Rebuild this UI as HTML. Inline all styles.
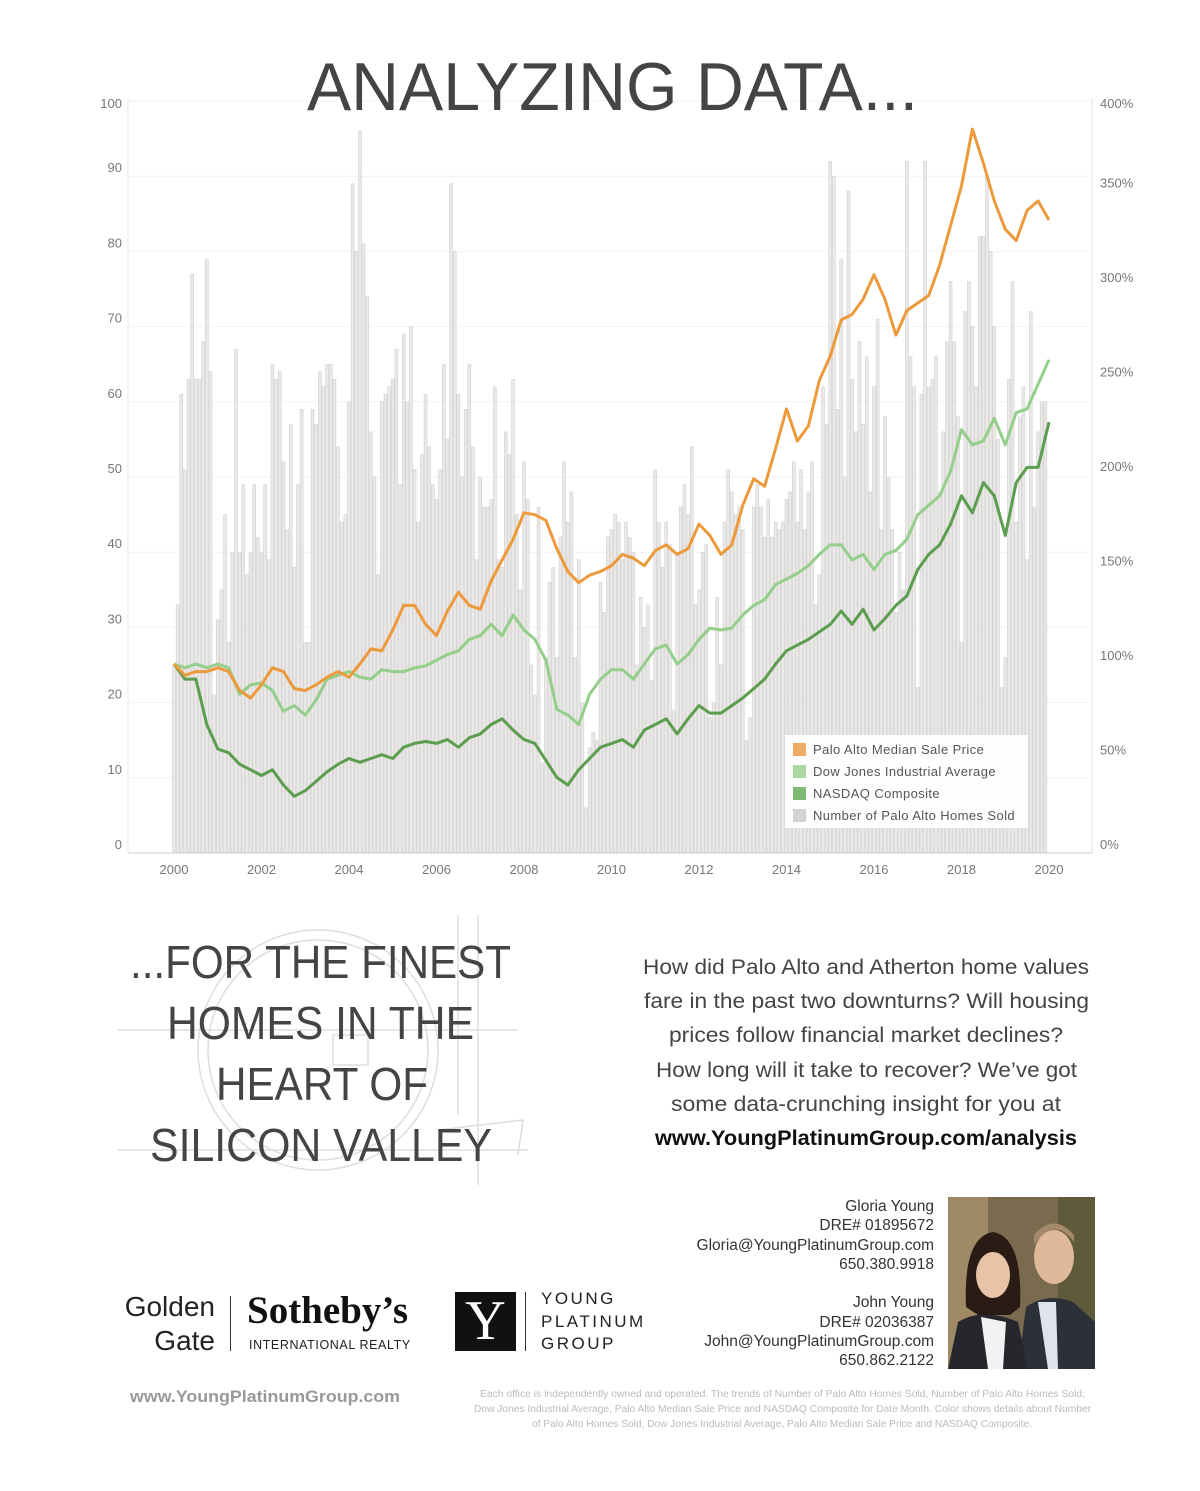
<!DOCTYPE html>
<html><head><meta charset="utf-8">
<style>
body{margin:0;background:#fff;font-family:"Liberation Sans",sans-serif;}
#page{position:relative;width:1200px;height:1491px;overflow:hidden;background:#fff;}
.abs{position:absolute;}
.tick{font-size:13px;fill:#777;}
</style></head>
<body>
<div id="page">
<svg id="chart" class="abs" style="left:0;top:0" width="1200" height="900"></svg>

<svg class="abs" style="left:0;top:0" width="1200" height="1491">
 <text x="307" y="110" font-size="68" fill="#444" textLength="611" lengthAdjust="spacingAndGlyphs">ANALYZING DATA...</text>
 <g stroke="#ddd" fill="none" stroke-width="1.5">
  <circle cx="318" cy="1050" r="120"/><circle cx="318" cy="1050" r="110"/>
  <line x1="118" y1="1030" x2="518" y2="1030"/><line x1="118" y1="1150" x2="528" y2="1150"/>
  <line x1="478" y1="915" x2="478" y2="1185"/><line x1="458" y1="915" x2="458" y2="1115"/>
  <rect x="333" y="1035" width="35" height="30"/><path d="M438 1130 L523 1120 L518 1155"/>
 </g>
 <g font-size="46" fill="#444">
  <text x="130" y="978" textLength="381" lengthAdjust="spacingAndGlyphs">...FOR THE FINEST</text>
  <text x="167" y="1039" textLength="307" lengthAdjust="spacingAndGlyphs">HOMES IN THE</text>
  <text x="216" y="1100" textLength="212" lengthAdjust="spacingAndGlyphs">HEART OF</text>
  <text x="150" y="1161" textLength="342" lengthAdjust="spacingAndGlyphs">SILICON VALLEY</text>
 </g>
 <g font-size="21" fill="#444">
  <text x="643" y="974" textLength="446" lengthAdjust="spacingAndGlyphs">How did Palo Alto and Atherton home values</text>
  <text x="644" y="1008" textLength="445" lengthAdjust="spacingAndGlyphs">fare in the past two downturns? Will housing</text>
  <text x="669" y="1042" textLength="394" lengthAdjust="spacingAndGlyphs">prices follow financial market declines?</text>
  <text x="656" y="1077" textLength="421" lengthAdjust="spacingAndGlyphs">How long will it take to recover? We’ve got</text>
  <text x="671" y="1111" textLength="390" lengthAdjust="spacingAndGlyphs">some data-crunching insight for you at</text>
  <text x="655" y="1145" font-weight="bold" fill="#111" textLength="422" lengthAdjust="spacingAndGlyphs">www.YoungPlatinumGroup.com/analysis</text>
 </g>
 <g font-size="10" fill="#bbb">
  <text x="480" y="1397" textLength="605" lengthAdjust="spacingAndGlyphs">Each office is independently owned and operated. The trends of Number of Palo Alto Homes Sold, Number of Palo Alto Homes Sold,</text>
  <text x="474" y="1412" textLength="617" lengthAdjust="spacingAndGlyphs">Dow Jones Industrial Average, Palo Alto Median Sale Price and NASDAQ Composite for Date Month. Color shows details about Number</text>
  <text x="532" y="1427" textLength="500" lengthAdjust="spacingAndGlyphs">of Palo Alto Homes Sold, Dow Jones Industrial Average, Palo Alto Median Sale Price and NASDAQ Composite.</text>
 </g>
 <text x="130" y="1402" font-size="17" font-weight="bold" fill="#999" textLength="270" lengthAdjust="spacingAndGlyphs">www.YoungPlatinumGroup.com</text>
</svg>

<div class="abs" style="left:640px;top:1197px;width:294px;text-align:right;font-size:15.5px;line-height:19.3px;color:#333;">Gloria Young<br>DRE# 01895672<br>Gloria@YoungPlatinumGroup.com<br>650.380.9918<br><br>John Young<br>DRE# 02036387<br>John@YoungPlatinumGroup.com<br>650.862.2122</div>

<svg class="abs" style="left:948px;top:1197px" width="147" height="172">
 <rect width="147" height="172" fill="#7a6a4e"/>
 <rect x="0" y="0" width="40" height="172" fill="#a08a66"/>
 <rect x="110" y="0" width="37" height="172" fill="#5f5a3a"/>
 <path d="M70 172 L78 110 Q100 95 125 105 L147 125 L147 172Z" fill="#2c3038"/>
 <path d="M90 105 L100 172 L110 172 L108 105Z" fill="#dfe3ea"/>
 <ellipse cx="106" cy="60" rx="20" ry="27" fill="#e0b89c"/>
 <path d="M86 48 Q106 18 126 45 L126 38 Q106 15 86 38Z" fill="#a58a6a"/>
 <path d="M0 172 L10 125 Q35 110 70 125 L80 172Z" fill="#25272d"/>
 <path d="M33 120 L40 172 L55 172 L58 125Z" fill="#f2f2f2"/>
 <path d="M18 110 Q15 40 45 35 Q75 40 72 110 L62 118 L30 118Z" fill="#2a1c14"/>
 <ellipse cx="45" cy="78" rx="17" ry="23" fill="#e8c3a8"/>
</svg>

<div class="abs" style="left:120px;top:1290px;width:95px;text-align:right;font-size:28px;line-height:34px;color:#222;">Golden<br>Gate</div>
<div class="abs" style="left:230px;top:1296px;width:1px;height:55px;background:#333"></div>
<div class="abs" style="left:247px;top:1288px;font-family:'Liberation Serif',serif;font-size:39px;font-weight:bold;color:#111;">Sotheby’s</div>
<div class="abs" style="left:249px;top:1338px;font-size:12.5px;letter-spacing:0.6px;color:#222;">INTERNATIONAL REALTY</div>

<div class="abs" style="left:455px;top:1292px;width:61px;height:59px;background:#111;color:#fff;font-family:'Liberation Serif',serif;font-size:56px;line-height:59px;text-align:center;">Y</div>
<div class="abs" style="left:525px;top:1292px;width:1px;height:59px;background:#333"></div>
<div class="abs" style="left:541px;top:1288px;font-size:17px;line-height:22.5px;letter-spacing:2.5px;color:#222;">YOUNG<br>PLATINUM<br>GROUP</div>
</div>

<script>
const homesSold = [
25,33,61,51,63,77,63,63,68,79,64,21,
31,35,45,28,40,67,40,49,37,40,49,42,
40,49,39,65,63,64,52,43,57,38,49,59,
28,28,59,57,64,62,65,65,63,54,44,45,
60,89,80,96,81,74,56,50,37,60,61,62,
63,67,49,69,60,70,51,44,53,61,54,49,
47,51,65,55,89,80,61,50,59,65,54,39,
50,46,46,47,62,39,38,56,53,63,45,35,
52,47,25,21,46,12,26,36,38,26,42,52,
44,48,26,39,20,6,14,16,15,36,32,42,
43,45,44,39,44,42,40,25,34,30,33,23,
51,44,38,44,41,19,40,46,49,45,54,33,
35,40,41,18,20,34,25,44,51,48,45,46,
43,15,18,46,49,46,42,47,42,44,43,44,
47,48,52,44,51,43,48,52,33,37,62,57,
92,90,59,79,50,88,63,56,68,57,66,48,
62,71,43,58,50,43,32,40,35,92,66,62,
22,61,92,62,63,66,48,56,68,76,68,58,
28,72,76,70,62,82,82,90,80,70,55,22,
26,63,76,44,58,62,39,72,46,56,60,60];
const paloAlto = [100,94,96,96,98,96,86,82,89,98,96,87,86,89,93,96,93,100,108,107,118,131,131,121,115,128,138,131,129,144,155,166,180,179,176,161,149,143,147,149,152,158,156,152,160,163,158,161,174,168,158,163,184,198,194,214,235,218,226,250,263,282,285,293,306,293,274,287,291,295,311,332,353,383,365,345,330,324,340,345,335];
const dowJones = [100,98,100,98,100,98,84,89,90,86,75,78,73,81,92,94,96,93,92,97,96,96,98,99,102,105,107,113,115,121,115,126,118,113,102,76,73,68,84,92,97,97,92,100,108,110,100,105,113,119,118,119,126,131,134,142,145,148,152,158,163,163,155,158,150,158,160,166,179,184,189,202,224,216,218,230,216,233,235,248,261];
const nasdaq = [100,92,92,68,55,53,47,44,41,44,36,30,33,38,43,47,50,48,50,52,50,56,58,59,58,60,56,61,63,68,71,65,60,58,49,40,36,44,50,56,58,60,56,65,68,71,63,71,78,74,74,78,82,87,92,100,107,110,113,117,121,128,121,129,118,124,131,136,150,158,163,174,189,180,196,189,168,196,204,204,228];
const leftTicks = [0,10,20,30,40,50,60,70,80,90,100];
const rightTicks = [0,50,100,150,200,250,300,350,400];
const yearTicks = [2000,2002,2004,2006,2008,2010,2012,2014,2016,2018,2020];
const legendLabels = ["Palo Alto Median Sale Price","Dow Jones Industrial Average","NASDAQ Composite","Number of Palo Alto Homes Sold"];
const legendColors = ["#f0ab64","#a9d9a0","#7dbb72","#d5d2d2"];

const NS="http://www.w3.org/2000/svg";
const svg=document.getElementById('chart');
const X0=174,X1=1049,Y0=853,PL=7.52,PR=1.89;
const xYear=y=>X0+(y-2000)*(X1-X0)/20;
const yL=v=>Y0-v*PL;
const yR=p=>Y0-p*PR;
function mk(t,a){const e=document.createElementNS(NS,t);for(const k in a)e.setAttribute(k,a[k]);svg.appendChild(e);return e;}

mk('line',{x1:128,y1:98,x2:128,y2:Y0,stroke:'#e6e6e6'});
mk('line',{x1:1092,y1:98,x2:1092,y2:Y0,stroke:'#e6e6e6'});
leftTicks.forEach(v=>{
 const g=mk('line',{x1:128,x2:1092,y1:yL(v),y2:yL(v),stroke:'#f2f2f2'});
 
 
 const t=mk('text',{x:122,y:(v===100?108:yL(v)-4),'text-anchor':'end',class:'tick'});
 t.textContent=v;
 
 
});
rightTicks.forEach(p=>{
 const t=mk('text',{x:1100,y:(p===400?108:yR(p)-4),class:'tick'});
 t.textContent=p+'%';
 
 
});
yearTicks.forEach(y=>{
 const t=mk('text',{x:xYear(y),y:874,'text-anchor':'middle',class:'tick'});
 t.textContent=y;
 
 
});
const bw=(X1-X0)/(homesSold.length-1);
homesSold.forEach((v,i)=>{
 const x=xYear(2000+i/12);
 const r=mk('rect',{x:x-bw*0.4,y:yL(v),width:bw*0.8,height:v*PL,fill:'#ebe8e8',stroke:'#d3d0d0','stroke-width':0.6});
 
 
});
mk('line',{x1:128,x2:1092,y1:Y0,y2:Y0,stroke:'#ccc'});
function line(arr,col,name){
 const d=arr.map((p,i)=>(i?'L':'M')+xYear(2000+i/4).toFixed(1)+' '+yR(p).toFixed(1)).join(' ');
 const e=mk('path',{d:d,fill:'none',stroke:col,'stroke-width':3,'stroke-linejoin':'round'});
 
 
}
line(dowJones,'#93cf8a','dow-jones-line');
line(nasdaq,'#5a9e4e','nasdaq-line');
line(paloAlto,'#ec9a3c','palo-alto-line');
const lg=mk('rect',{x:785,y:735,width:243,height:93,fill:'#fff',opacity:0.95});


legendLabels.forEach((l,i)=>{
 const yy=743+i*22;
 const s=mk('rect',{x:793,y:yy,width:13,height:13,fill:legendColors[i]});
 
 
 const t=mk('text',{x:813,y:yy+11,'font-size':13,fill:'#555','letter-spacing':0.4});
 t.textContent=l;
 
 
});
</script>
</body></html>
